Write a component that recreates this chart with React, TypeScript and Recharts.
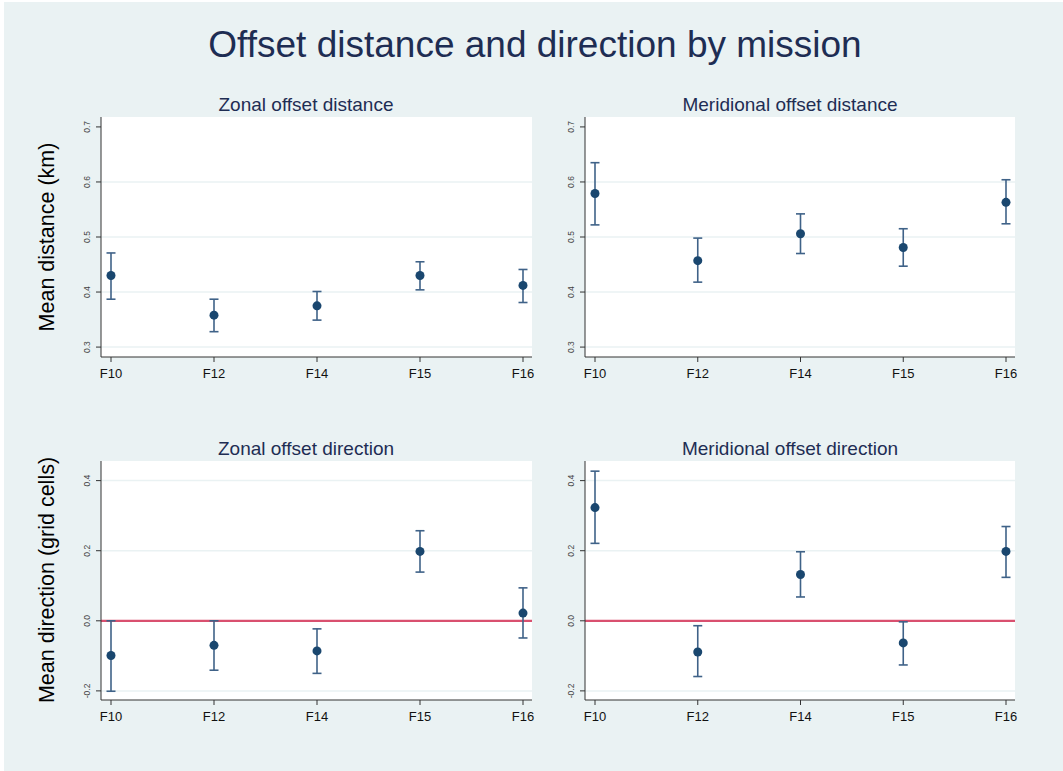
import React from "react";
import {
  ComposedChart,
  Scatter,
  ErrorBar,
  XAxis,
  YAxis,
  CartesianGrid,
  ReferenceLine,
} from "recharts";

const missions = ["F10", "F12", "F14", "F15", "F16"];

// zonal offset distance (km): mean and 95% CI
const zonalDistMean = [0.43, 0.358, 0.375, 0.43, 0.412];
const zonalDistLow = [0.387, 0.328, 0.349, 0.404, 0.381];
const zonalDistHigh = [0.471, 0.387, 0.401, 0.455, 0.441];

// meridional offset distance (km)
const merDistMean = [0.579, 0.457, 0.506, 0.481, 0.563];
const merDistLow = [0.522, 0.418, 0.47, 0.447, 0.524];
const merDistHigh = [0.635, 0.498, 0.542, 0.515, 0.604];

// zonal offset direction (grid cells)
const zonalDirMean = [-0.099, -0.07, -0.086, 0.198, 0.022];
const zonalDirLow = [-0.201, -0.141, -0.15, 0.139, -0.049];
const zonalDirHigh = [0.0, 0.0, -0.023, 0.257, 0.094];

// meridional offset direction (grid cells)
const merDirMean = [0.323, -0.089, 0.132, -0.063, 0.198];
const merDirLow = [0.221, -0.159, 0.068, -0.126, 0.124];
const merDirHigh = [0.427, -0.014, 0.197, -0.003, 0.269];

const distTicks = [0.3, 0.4, 0.5, 0.6, 0.7];
const distGrid = [0.3, 0.4, 0.5, 0.6];
const dirTicks = [-0.2, 0, 0.2, 0.4];
const dirGrid = [-0.2, 0.2, 0.4];

const FONT = '"Liberation Sans", Arial, Helvetica, sans-serif';
const BG = "#eaf2f3";
const NAVY = "#1a476f";
const TITLE = "#1e2d53";

function rows(mean: number[], low: number[], high: number[]) {
  return missions.map((m, i) => ({
    mission: m,
    mean: mean[i],
    err: [mean[i] - low[i], high[i] - mean[i]],
  }));
}

function YTick(props: any) {
  const { x, y, payload } = props;
  return (
    <text
      x={x - 7}
      y={y}
      transform={`rotate(-90, ${x - 7}, ${y})`}
      textAnchor="middle"
      dominantBaseline="central"
      fontSize={8.5}
      fontFamily={FONT}
      fill="#444"
    >
      {Number(payload.value).toFixed(1)}
    </text>
  );
}

function XTick(props: any) {
  const { x, y, payload } = props;
  return (
    <text
      x={x}
      y={y + 14}
      textAnchor="middle"
      fontSize={13}
      fontFamily={FONT}
      fill="#111"
    >
      {payload.value}
    </text>
  );
}

function Dot(props: any) {
  return <circle cx={props.cx} cy={props.cy} r={4.5} fill={NAVY} />;
}

function Panel({
  left,
  top,
  right,
  bottom,
  data,
  domain,
  ticks,
  grid,
  zeroLine,
}: {
  left: number;
  top: number;
  right: number;
  bottom: number;
  data: { mission: string; mean: number; err: number[] }[];
  domain: [number, number];
  ticks: number[];
  grid: number[];
  zeroLine?: boolean;
}) {
  return (
    <div style={{ position: "absolute", left, top }}>
      <ComposedChart
        width={490}
        height={290}
        data={data}
        margin={{ top: 17, right, bottom, left: 0 }}
      >
        <CartesianGrid
          fill="#ffffff"
          vertical={false}
          stroke={BG}
          strokeWidth={1.5}
          horizontalValues={grid}
        />
        <XAxis
          dataKey="mission"
          scale="point"
          padding={{ left: 10, right: 9 }}
          height={30}
          tickSize={5}
          tickMargin={2}
          stroke="#333"
          tick={<XTick />}
        />
        <YAxis
          type="number"
          domain={domain}
          ticks={ticks}
          allowDataOverflow
          width={51}
          tickSize={5}
          tickMargin={2}
          stroke="#333"
          tick={<YTick />}
        />
        {zeroLine && (
          <ReferenceLine y={0} stroke="#d9506f" strokeWidth={2.2} />
        )}
        <Scatter dataKey="mean" shape={<Dot />} isAnimationActive={false}>
          <ErrorBar
            dataKey="err"
            direction="y"
            width={4.5}
            stroke="#3f6288"
            strokeWidth={1.6}
          />
        </Scatter>
      </ComposedChart>
    </div>
  );
}

function Text({
  x,
  y,
  size,
  color,
  rotate,
  children,
}: {
  x: number;
  y: number;
  size: number;
  color: string;
  rotate?: boolean;
  children: React.ReactNode;
}) {
  return (
    <div
      style={{
        position: "absolute",
        left: x,
        top: y,
        transform: `translate(-50%, -50%)${rotate ? " rotate(-90deg)" : ""}`,
        fontSize: size,
        fontFamily: FONT,
        color,
        whiteSpace: "nowrap",
        lineHeight: 1,
      }}
    >
      {children}
    </div>
  );
}

export default function App() {
  return (
    <div
      style={{
        position: "absolute",
        left: 0,
        top: 0,
        width: 1063,
        height: 771,
        background: "#ffffff",
        overflow: "hidden",
      }}
    >
      <div
        style={{
          position: "absolute",
          left: 4,
          top: 2,
          right: 0,
          bottom: 0,
          background: BG,
        }}
      />
      <Text x={535} y={44} size={37} color={TITLE}>
        Offset distance and direction by mission
      </Text>
      <Text x={306} y={104} size={19} color={TITLE}>
        Zonal offset distance
      </Text>
      <Text x={790} y={104} size={19} color={TITLE}>
        Meridional offset distance
      </Text>
      <Text x={306} y={448} size={19} color={TITLE}>
        Zonal offset direction
      </Text>
      <Text x={790} y={448} size={19} color={TITLE}>
        Meridional offset direction
      </Text>
      <Text x={48} y={237} size={21.5} color="#000" rotate>
        Mean distance (km)
      </Text>
      <Text x={48} y={580} size={21.5} color="#000" rotate>
        Mean direction (grid cells)
      </Text>

      <Panel
        left={50}
        top={100}
        right={8}
        bottom={3}
        data={rows(zonalDistMean, zonalDistLow, zonalDistHigh)}
        domain={[0.282, 0.718]}
        ticks={distTicks}
        grid={distGrid}
      />
      <Panel
        left={534}
        top={100}
        right={9}
        bottom={3}
        data={rows(merDistMean, merDistLow, merDistHigh)}
        domain={[0.282, 0.718]}
        ticks={distTicks}
        grid={distGrid}
      />
      <Panel
        left={50}
        top={444}
        right={8}
        bottom={4}
        data={rows(zonalDirMean, zonalDirLow, zonalDirHigh)}
        domain={[-0.226, 0.456]}
        ticks={dirTicks}
        grid={dirGrid}
        zeroLine
      />
      <Panel
        left={534}
        top={444}
        right={9}
        bottom={4}
        data={rows(merDirMean, merDirLow, merDirHigh)}
        domain={[-0.226, 0.456]}
        ticks={dirTicks}
        grid={dirGrid}
        zeroLine
      />
    </div>
  );
}
